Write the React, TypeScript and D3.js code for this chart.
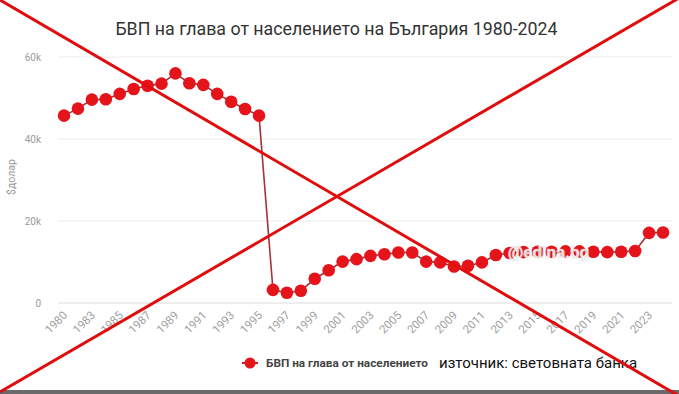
import React from "react";
import * as d3 from "d3";

const categories = [
  "1980", "1981", "1983", "1984", "1985", "1986", "1987", "1988", "1989", "1990",
  "1991", "1992", "1993", "1994", "1995", "1996", "1997", "1998", "1999", "2000",
  "2001", "2002", "2003", "2004", "2005", "2006", "2007", "2008", "2009", "2010",
  "2011", "2012", "2013", "2014", "2015", "2016", "2017", "2018", "2019", "2020",
  "2021", "2022", "2023", "2024",
];

const gdpValues = [
  45700, 47400, 49600, 49700, 51000, 52200, 53000, 53500, 56000, 53600,
  53200, 51000, 49100, 47300, 45700, 3200, 2500, 3000, 5900, 8000,
  10100, 10700, 11500, 11900, 12300, 12300, 10100, 9900, 8900, 9100,
  9900, 11700, 12200, 12400, 12500, 12500, 12600, 12600, 12500, 12400,
  12500, 12700, 17100, 17200,
];

const yTicks = [0, 20000, 40000, 60000];
const tickLabels = categories.filter((_, i) => i % 2 === 0);

const title = "БВП на глава от населението на България 1980-2024";
const yAxisTitle = "$долар";
const seriesName = "БВП на глава от населението";
const sourceText = "източник: световната банка";
const watermark = "@edina.bg";

const W = 679;
const H = 394;

export default function App() {
  const x = d3.scalePoint<string>().domain(categories).range([64, 663]);
  const y = d3.scaleLinear().domain([0, 60000]).range([303, 57]);
  const line = d3
    .line<number>()
    .x((_, i) => x(categories[i]) as number)
    .y((d) => y(d));
  const fmt = (v: number) => (v === 0 ? "0" : `${v / 1000}k`);
  const font = "Roboto, 'Noto Sans', Arial, sans-serif";
  const red = "#e5141b";

  return (
    <svg
      width={W}
      height={H}
      style={{ position: "absolute", left: 0, top: 0, background: "#fff" }}
      fontFamily={font}
    >
      <rect x={0} y={0} width={W} height={H} fill="#fff" />
      <text x={336.5} y={35} textAnchor="middle" fontSize={17.8} fill="#333">
        {title}
      </text>

      {yTicks.map((t) => (
        <g key={t}>
          <line x1={58} x2={672} y1={y(t)} y2={y(t)} stroke={t === 0 ? "#dcdcdc" : "#ececec"} strokeWidth={1} />
          <text x={41} y={y(t) + 3.5} textAnchor="end" fontSize={10} fill="#9a9a9a">
            {fmt(t)}
          </text>
        </g>
      ))}

      <text
        transform={`translate(15,177) rotate(-90)`}
        textAnchor="middle"
        fontSize={10.5}
        fill="#9a9a9a"
      >
        {yAxisTitle}
      </text>

      {tickLabels.map((c) => {
        const px = (x(c) as number) + 4;
        return (
          <text
            key={c}
            transform={`translate(${px},${316}) rotate(-45)`}
            textAnchor="end"
            fontSize={11.5}
            fill="#a0a0a0"
          >
            {c}
          </text>
        );
      })}

      <path d={line(gdpValues) || ""} fill="none" stroke="#a5323a" strokeWidth={1.6} />
      {gdpValues.map((v, i) => (
        <circle key={i} cx={x(categories[i]) as number} cy={y(v)} r={6.3} fill={red} />
      ))}

      <text
        x={508}
        y={258}
        fontSize={17}
        fontWeight={700}
        fill="#fff"
        stroke="#ddd"
        strokeWidth={0.6}
        opacity={0.9}
      >
        {watermark}
      </text>

      <line x1={242} x2={258} y1={363} y2={363} stroke={red} strokeWidth={2} />
      <circle cx={250} cy={363} r={5.5} fill={red} />
      <text x={266} y={367} fontSize={11.8} fontWeight={700} fill="#444">
        {seriesName}
      </text>
      <text x={439} y={368} fontSize={15} fill="#111">
        {sourceText}
      </text>

      <rect x={0} y={390} width={W} height={4} fill="#6a6a6a" />

      <line x1={0} y1={0} x2={679} y2={396} stroke="#e00d0d" strokeWidth={3} />
      <line x1={0} y1={392} x2={679} y2={-2} stroke="#e00d0d" strokeWidth={3} />
    </svg>
  );
}
